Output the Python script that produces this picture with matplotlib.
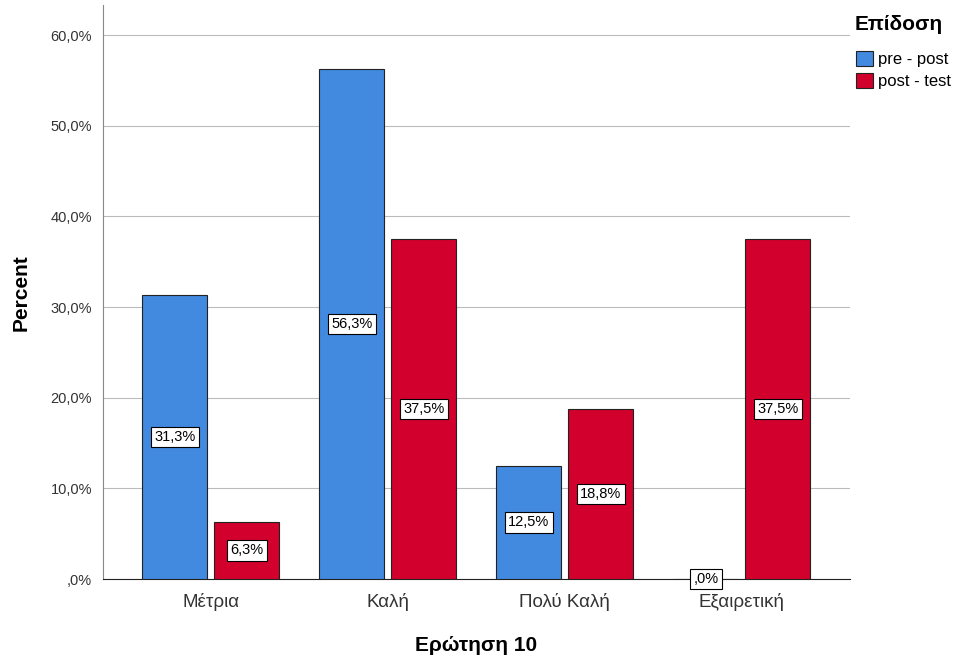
import numpy as np
import matplotlib.pyplot as plt
from matplotlib.ticker import FuncFormatter

plt.rcParams['font.family'] = ['Liberation Sans', 'DejaVu Sans']

categories = ["Μέτρια", "Καλή", "Πολύ Καλή", "Εξαιρετική"]
pre_post = [31.3, 56.3, 12.5, 0.0]
post_test = [6.3, 37.5, 18.8, 37.5]
series_names = ["pre - post", "post - test"]
colors = ["#4289e0", "#d2002c"]

fig = plt.figure(figsize=(9.59, 6.57), dpi=100)
ax = fig.add_axes([0.1074, 0.1187, 0.7786, 0.8733])

x = np.arange(len(categories))
w = 0.367
off = 0.02 + w / 2
for i, (vals, c) in enumerate(zip([pre_post, post_test], colors)):
    pos = x - off if i == 0 else x + off
    ax.bar(pos, vals, width=w, color=c, edgecolor="#222222", linewidth=0.8,
           label=series_names[i], zorder=3)
    for px, v in zip(pos, vals):
        lbl = ("%.1f" % v).replace(".", ",") + "%"
        if v == 0:
            lbl = ",0%"
        ax.text(px, v / 2, lbl, ha="center", va="center", fontsize=10.5, zorder=5,
                bbox=dict(boxstyle="square,pad=0.22", fc="white", ec="black", lw=0.8))

ax.set_xlim(-0.61, 3.61)
ax.set_ylim(0, 63.3)
ax.set_yticks(np.arange(0, 61, 10))
ax.yaxis.set_major_formatter(FuncFormatter(
    lambda v, p: ",0%" if v == 0 else ("%.1f" % v).replace(".", ",") + "%"))
ax.set_xticks(x)
ax.set_xticklabels(categories, fontsize=13.5, color="#333333")
ax.tick_params(axis="y", labelsize=10.5, length=0, pad=8, colors="#333333")
ax.tick_params(axis="x", length=0, pad=10)
ax.grid(axis="y", color="#bbbbbb", linewidth=0.8, zorder=0)

for s in ["top", "right"]:
    ax.spines[s].set_visible(False)
ax.spines["left"].set_color("#888888")
ax.spines["bottom"].set_color("#222222")

ax.set_ylabel("Percent", fontsize=15, fontweight="bold", labelpad=14)
ax.set_xlabel("Ερώτηση 10", fontsize=15, fontweight="bold", labelpad=18)

# legend title drawn separately so the gap below it matches
fig.text(855 / 959, 1 - 24 / 657, "Επίδοση", fontsize=15, fontweight="bold",
         ha="left", va="center")
leg = fig.legend(loc="upper left", bbox_to_anchor=(856 / 959, 1 - 51 / 657),
                 frameon=False, fontsize=12, handlelength=1.0, handleheight=1.0,
                 handletextpad=0.3, borderaxespad=0, borderpad=0, labelspacing=0.35)

fig.savefig("out.png", dpi=100)
